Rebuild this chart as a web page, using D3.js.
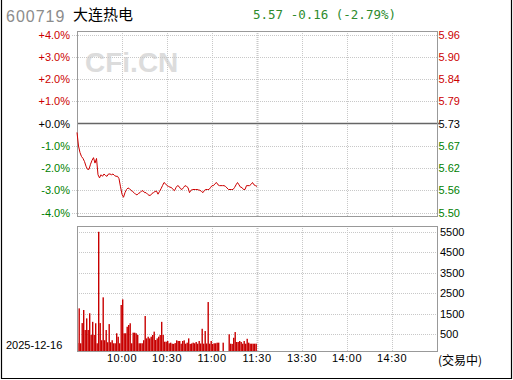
<!DOCTYPE html>
<html>
<head>
<meta charset="utf-8">
<script src="https://cdn.jsdelivr.net/npm/d3@7"></script>
<style>
body { margin: 0; background: #fff; }
svg { display: block; }
</style>
</head>
<body>
<div id="chartid"></div>
<script>
/***** data *****/
var stockCode = "600719";
var stockName = "大连热电";
var prevClose = 5.73;
var lastPrice = 5.57;
var tradeDate = "2025-12-16";
var statusText = "(交易中)";

var pctTicks = [4, 3, 2, 1, 0, -1, -2, -3, -4];
var priceTicks = ["5.96", "5.90", "5.84", "5.79", "5.73", "5.67", "5.62", "5.56", "5.50"];
var volTicks = [5500, 4500, 3500, 2500, 1500, 500];
var timeTicks = [30, 60, 90, 120, 150, 180, 210];
var timeLabels = ["10:00", "10:30", "11:00", "11:30", "13:30", "14:00", "14:30"];

// one value per minute, 9:30 -> 11:30
var prices = [
  5.707, 5.672, 5.655, 5.645, 5.640, 5.632, 5.620, 5.612, 5.612, 5.625,
  5.635, 5.642, 5.628, 5.640, 5.598, 5.590, 5.598, 5.594, 5.600, 5.596,
  5.594, 5.600, 5.600, 5.598, 5.600, 5.596, 5.594, 5.594, 5.588, 5.567,
  5.548, 5.540, 5.552, 5.560, 5.564, 5.562, 5.558, 5.555, 5.552, 5.548,
  5.546, 5.550, 5.552, 5.556, 5.557, 5.552, 5.552, 5.548, 5.545, 5.545,
  5.550, 5.552, 5.555, 5.556, 5.548, 5.555, 5.562, 5.570, 5.578, 5.575,
  5.570, 5.568, 5.566, 5.565, 5.560, 5.557, 5.565, 5.570, 5.568, 5.562,
  5.560, 5.565, 5.570, 5.568, 5.565, 5.552, 5.558, 5.560, 5.560, 5.560,
  5.560, 5.559, 5.558, 5.555, 5.552, 5.558, 5.560, 5.560, 5.560, 5.565,
  5.570, 5.570, 5.575, 5.578, 5.572, 5.570, 5.570, 5.570, 5.570, 5.568,
  5.564, 5.560, 5.560, 5.560, 5.560, 5.565, 5.572, 5.578, 5.572, 5.566,
  5.565, 5.560, 5.560, 5.570, 5.570, 5.570, 5.573, 5.578, 5.572, 5.570,
  5.568
];
var volumes = [
  60, 1760, 50, 1040, 1680, 700, 1270, 700, 1520, 460,
  1100, 460, 1030, 50, 5510, 1040, 200, 2300, 200, 700,
  100, 990, 100, 200, 50, 50, 540, 370, 50, 1925,
  2200, 540, 540, 860, 945, 1030, 50, 570, 570, 540,
  460, 50, 50, 50, 200, 1385, 290, 372, 290, 372,
  455, 620, 210, 290, 372, 455, 1100, 455, 127, 127,
  162, 50, 80, 30, 20, 60, 195, 162, 162, 30,
  162, 195, 30, 80, 290, 20, 40, 80, 50, 113,
  30, 162, 40, 760, 30, 650, 40, 2070, 30, 162,
  20, 50, 50, 80, 80, 0, 0, 80, 0, 0,
  0, 490, 30, 20, 320, 600, 113, 113, 162, 113,
  30, 162, 30, 270, 80, 30, 30, 30, 30, 30,
  0
];

/***** layout *****/
var width = 513;
var height = 380;
var left = 77, right = 437;
var priceTop = 31, priceBottom = 216;
var volTop = 226, volBottom = 351;

var svg = d3.select("div#chartid")
  .append("svg")
  .attr("width", width)
  .attr("height", height)
;

//scales
var x = d3.scaleLinear().domain([0, 240]).range([left, right]);
var y = d3.scaleLinear().domain([-4, 4]).range([212.5, 34.5]);
var yVol = d3.scaleLinear().domain([0, 5500]).range([344.3, 232]);

var pctOf = function(p) { return (p / prevClose - 1) * 100; };

//outer frame (no top edge)
svg.append("path")
  .attr("d", "M1.5,0 V378.5 H511.5 V0")
  .attr("fill", "none")
  .attr("stroke", "#000")
  .attr("stroke-width", 1.2)
;

//watermark
svg.append("text")
  .attr("x", 85)
  .attr("y", 72)
  .attr("font-family", "Liberation Sans, Arial, sans-serif")
  .attr("font-weight", "bold")
  .attr("font-size", 28)
  .attr("fill", "#dcdcdc")
  .text("CFi.CN")
;

/***** header *****/
svg.append("text")
  .attr("x", 6)
  .attr("y", 21.5)
  .attr("font-family", "Liberation Sans, Arial, sans-serif")
  .attr("font-size", 16)
  .attr("letter-spacing", 1)
  .attr("fill", "#8c8c8c")
  .text(stockCode)
;
svg.append("text")
  .attr("x", 73)
  .attr("y", 20)
  .attr("font-family", "Noto Sans CJK SC, sans-serif")
  .attr("font-size", 15)
  .attr("fill", "#000")
  .text(stockName)
;
var change = lastPrice - prevClose;
svg.append("text")
  .attr("x", 253)
  .attr("y", 18.5)
  .attr("font-family", "DejaVu Sans Mono, monospace")
  .attr("font-size", 12.5)
  .attr("fill", "#2e8b2e")
  .text(lastPrice.toFixed(2) + " " + change.toFixed(2) + " (" + (change / prevClose * 100).toFixed(2) + "%)")
;

/***** price panel *****/
var colorOf = function(v) { return v > 0 ? "#cc0000" : (v < 0 ? "#008000" : "#000"); };

svg.append("g")
  .selectAll("line")
  .data(pctTicks.filter(function(d) { return d !== 0; }))
  .join("line")
  .attr("x1", 72).attr("x2", right)
  .attr("y1", function(d) { return Math.round(y(d)) + 0.5; })
  .attr("y2", function(d) { return Math.round(y(d)) + 0.5; })
  .attr("stroke", "#c8c8c8")
  .attr("stroke-dasharray", "1,1")
;

//vertical grid in both panels
[[priceTop, priceBottom], [volTop, volBottom]].forEach(function(r) {
  svg.append("g")
    .selectAll("line")
    .data(timeTicks)
    .join("line")
    .attr("x1", function(d) { return Math.round(x(d)) + 0.5; })
    .attr("x2", function(d) { return Math.round(x(d)) + 0.5; })
    .attr("y1", r[0]).attr("y2", r[1])
    .attr("stroke", "#c8c8c8")
    .attr("stroke-width", function(d) { return d === 120 ? 2 : 1; })
    .attr("stroke-dasharray", "1,1")
  ;
});

//zero line
svg.append("line")
  .attr("x1", left).attr("x2", right + 2)
  .attr("y1", y(0)).attr("y2", y(0))
  .attr("stroke", "#666")
  .attr("stroke-width", 1.6)
;

svg.append("rect")
  .attr("x", left + 0.5).attr("y", priceTop + 0.5)
  .attr("width", right - left).attr("height", priceBottom - priceTop)
  .attr("fill", "none")
  .attr("stroke", "#999")
;

//left pct labels
svg.append("g")
  .selectAll("text")
  .data(pctTicks)
  .join("text")
  .attr("x", 70)
  .attr("y", function(d) { return y(d) + 4; })
  .attr("text-anchor", "end")
  .attr("font-family", "Liberation Sans, Arial, sans-serif")
  .attr("font-size", 11)
  .attr("fill", colorOf)
  .text(function(d) { return (d >= 0 ? "+" : "") + d.toFixed(1) + "%"; })
;

//right price labels
svg.append("g")
  .selectAll("text")
  .data(priceTicks)
  .join("text")
  .attr("x", 438.5)
  .attr("y", function(d, i) { return y(pctTicks[i]) + 4; })
  .attr("font-family", "Liberation Sans, Arial, sans-serif")
  .attr("font-size", 11)
  .attr("fill", function(d, i) { return colorOf(pctTicks[i]); })
  .text(function(d) { return d; })
;

//price line
var line = d3.line()
  .x(function(d, i) { return x(i); })
  .y(function(d) { return y(pctOf(d)); })
;
svg.append("path")
  .datum(prices)
  .attr("d", line)
  .attr("fill", "none")
  .attr("stroke", "#cc0000")
  .attr("stroke-width", 1)
;

/***** volume panel *****/
svg.append("g")
  .selectAll("line")
  .data(volTicks)
  .join("line")
  .attr("x1", left).attr("x2", right)
  .attr("y1", function(d) { return Math.round(yVol(d)) + 0.5; })
  .attr("y2", function(d) { return Math.round(yVol(d)) + 0.5; })
  .attr("stroke", "#c8c8c8")
  .attr("stroke-dasharray", "1,1")
;

svg.append("g")
  .selectAll("rect")
  .data(volumes)
  .join("rect")
  .attr("x", function(d, i) { return x(i); })
  .attr("y", function(d) { return yVol(d); })
  .attr("width", 1.4)
  .attr("height", function(d) { return d > 0 ? volBottom - yVol(d) : 0; })
  .attr("fill", "#c80000")
;

svg.append("rect")
  .attr("x", left + 0.5).attr("y", volTop + 0.5)
  .attr("width", right - left).attr("height", volBottom - volTop)
  .attr("fill", "none")
  .attr("stroke", "#999")
;

svg.append("g")
  .selectAll("text")
  .data(volTicks)
  .join("text")
  .attr("x", 440)
  .attr("y", function(d) { return yVol(d) + 4; })
  .attr("font-family", "Liberation Sans, Arial, sans-serif")
  .attr("font-size", 11)
  .attr("fill", "#000")
  .text(function(d) { return d; })
;

//time labels
svg.append("g")
  .selectAll("text")
  .data(timeTicks)
  .join("text")
  .attr("x", function(d) { return x(d); })
  .attr("y", 362)
  .attr("text-anchor", "middle")
  .attr("font-family", "Liberation Sans, Arial, sans-serif")
  .attr("font-size", 11)
  .attr("letter-spacing", 0.5)
  .attr("fill", "#000")
  .text(function(d, i) { return timeLabels[i]; })
;

svg.append("text")
  .attr("x", 6)
  .attr("y", 348.5)
  .attr("font-family", "Liberation Sans, Arial, sans-serif")
  .attr("font-size", 11)
  .attr("fill", "#000")
  .text(tradeDate)
;
svg.append("text")
  .attr("x", 438)
  .attr("y", 365)
  .attr("font-family", "Noto Sans CJK SC, sans-serif")
  .attr("font-size", 12)
  .attr("fill", "#000")
  .text(statusText)
;
</script>
</body>
</html>
